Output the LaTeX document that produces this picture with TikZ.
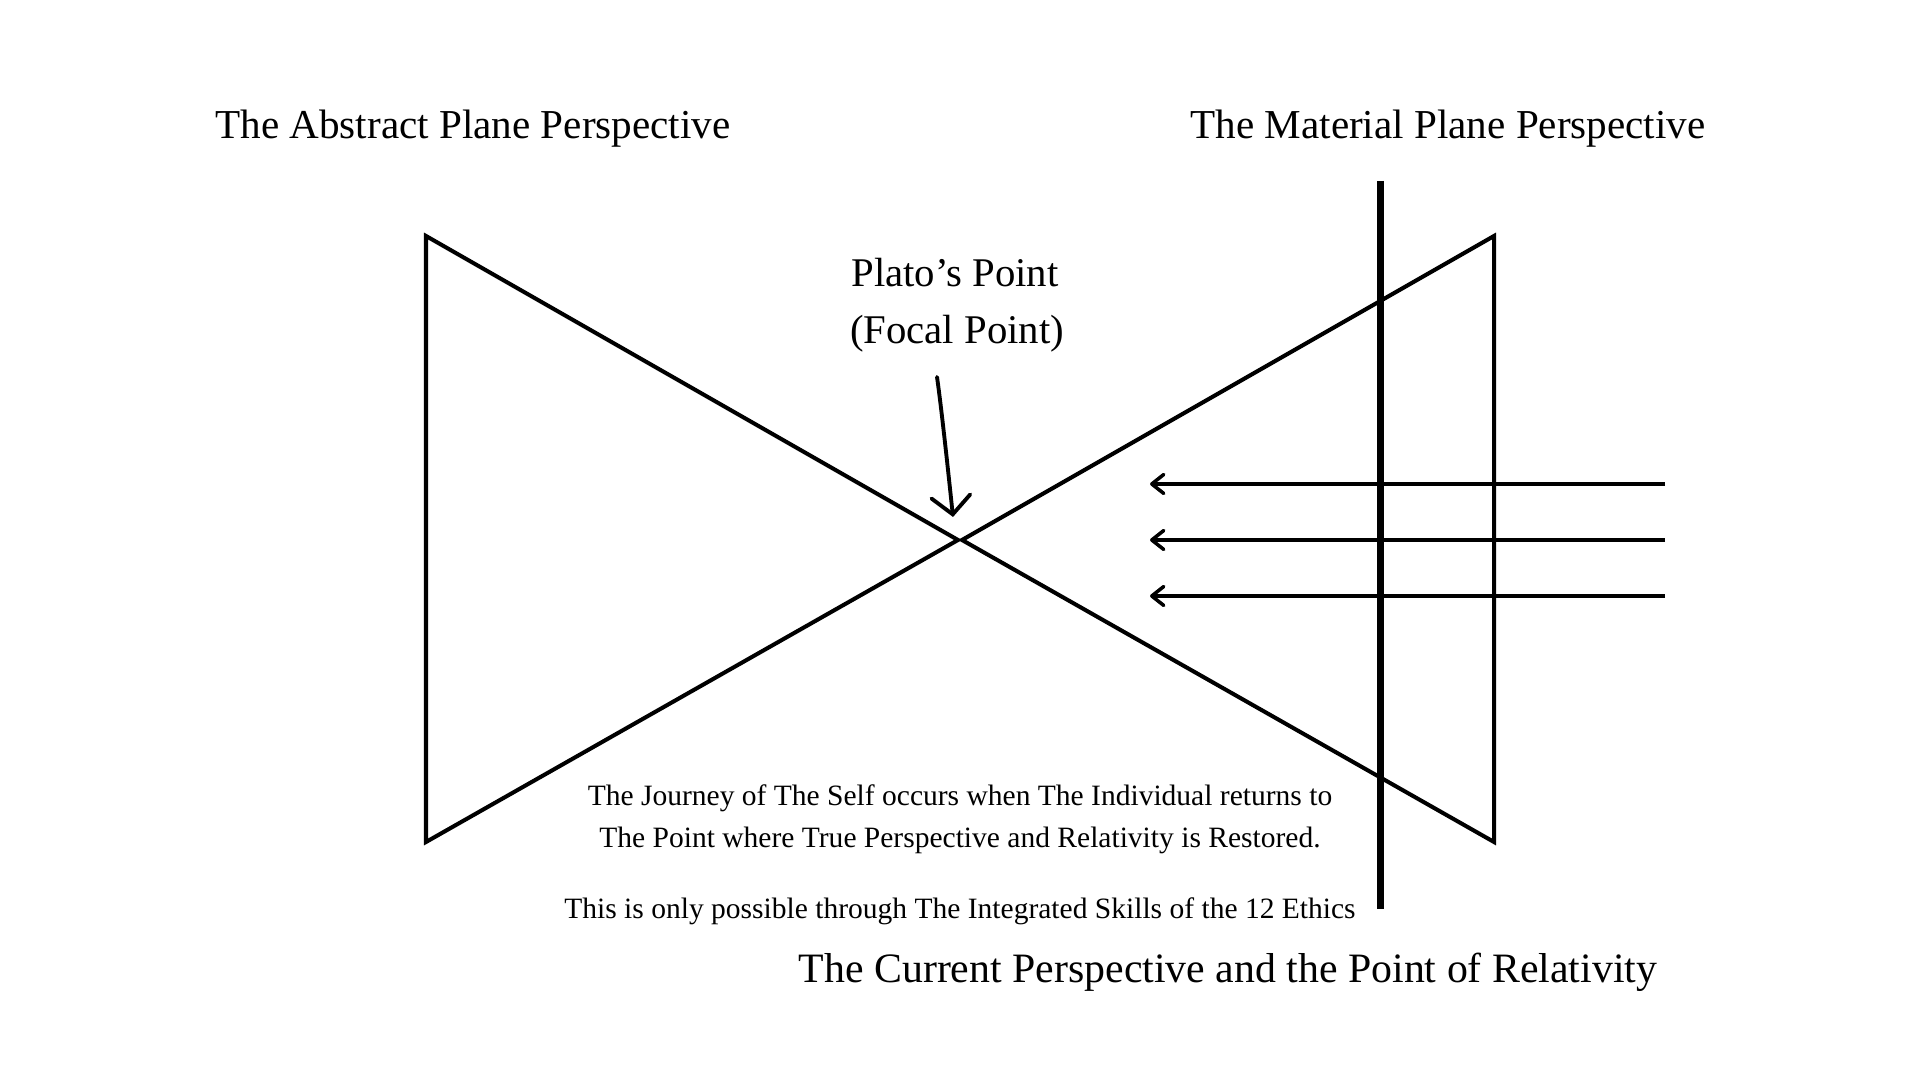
\documentclass[tikz,border=0pt]{standalone}
\usepackage{fontspec}
\setmainfont{Liberation Serif}
\usetikzlibrary{arrows.meta}

\begin{document}
\begin{tikzpicture}[
    edge/.style={line width=1.15pt},
    wall/.style={line width=2pt},
    ray/.style={line width=1pt,-{Straight Barb[length=1.2mm,width=1.9mm,line cap=round,line join=round]}},
    pointer/.style={line width=1.1pt,line cap=round,-{Straight Barb[length=1.8mm,width=3.9mm,line cap=round]}},
    heading/.style={anchor=base,inner sep=0pt,font=\fontsize{11.7pt}{13pt}\selectfont},
    remark/.style={anchor=base,inner sep=0pt,font=\fontsize{8.4pt}{10pt}\selectfont}
  ]
  \useasboundingbox (0,0) rectangle (19.2,10.8);
  % left triangle (abstract plane)
  \coordinate (lt) at (4.26,8.44);
  \coordinate (lb) at (4.26,2.38);
  \coordinate (la) at (9.58,5.40);
  \draw[edge] (lt) -- (lb) -- (la) -- cycle;
  % right triangle (material plane)
  \coordinate (rt) at (14.94,8.44);
  \coordinate (rb) at (14.94,2.38);
  \coordinate (ra) at (9.62,5.40);
  \draw[edge] (rt) -- (rb) -- (ra) -- cycle;
  % current perspective
  \coordinate (wtop) at (13.80,8.99);
  \coordinate (wbot) at (13.80,1.71);
  \draw[wall] (wtop) -- (wbot);
  % incoming rays
  \foreach \y [count=\i] in {5.96,5.40,4.84} {
    \coordinate (rs\i) at (16.65,\y);
    \coordinate (re\i) at (11.50,\y);
    \draw[ray] (rs\i) -- (re\i);
  }
  \node[heading] (abstract) at (4.73,9.41) {The Abstract Plane Perspective};
  \node[heading] (material) at (14.48,9.41) {The Material Plane Perspective};
  \node[heading,font=\fontsize{11.6pt}{13pt}\selectfont] (plato) at (9.55,7.93) {Plato’s Point};
  \node[heading,font=\fontsize{11.6pt}{13pt}\selectfont] (focal) at (9.57,7.36) {(Focal Point)};
  \coordinate (pstart) at (9.37,7.03);
  \coordinate (ptip) at (9.53,5.63);
  \draw[pointer] (pstart) .. controls (9.41,6.75) and (9.47,6.2) .. (ptip);
  \node[remark] (journey) at (9.60,2.74) {The Journey of The Self occurs when The Individual returns to};
  \node[remark] (restored) at (9.60,2.32) {The Point where True Perspective and Relativity is Restored.};
  \node[remark] (ethics) at (9.60,1.61) {This is only possible through The Integrated Skills of the 12 Ethics};
  \node[heading,font=\fontsize{11.9pt}{13pt}\selectfont] (current) at (12.28,0.97) {The Current Perspective and the Point of Relativity};
\end{tikzpicture}
\end{document}
